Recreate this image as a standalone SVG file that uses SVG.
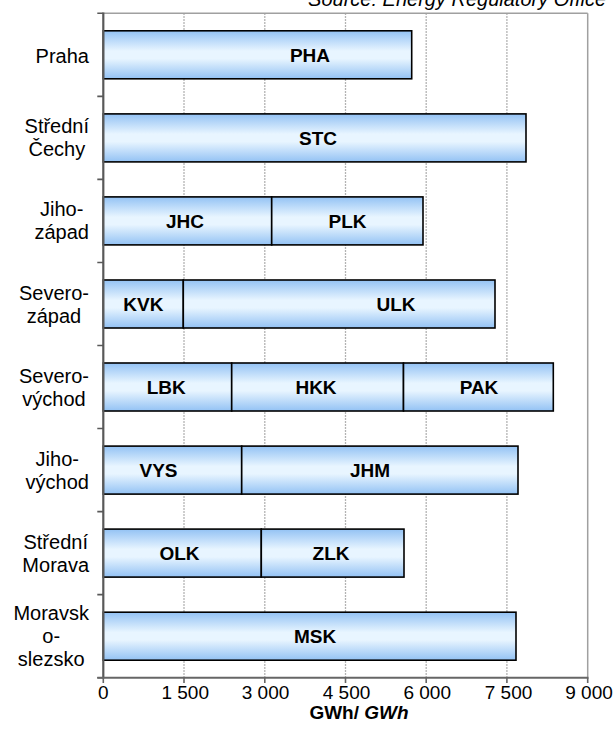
<svg xmlns="http://www.w3.org/2000/svg" width="616" height="747" viewBox="0 0 616 747">
<defs>
<linearGradient id="barfill" x1="0" y1="0" x2="0" y2="1">
<stop offset="0" stop-color="#93C2F4"/>
<stop offset="0.42" stop-color="#E8F5FF"/>
<stop offset="0.58" stop-color="#E8F5FF"/>
<stop offset="1" stop-color="#93C2F4"/>
</linearGradient>
<style>
.seg{fill:url(#barfill);stroke:#000;stroke-width:1.6}
.grid{stroke:#9a9a9a;stroke-width:1.3;stroke-dasharray:1.5 1.5;fill:none}
.cat{font-family:"Liberation Sans",Arial,sans-serif;font-size:20px;fill:#000;text-anchor:middle}
.lbl{font-family:"Liberation Sans",Arial,sans-serif;font-size:19px;font-weight:bold;fill:#000;text-anchor:middle}
.tick{font-family:"Liberation Sans",Arial,sans-serif;font-size:19px;fill:#000;text-anchor:middle}
</style>
</defs>
<rect width="616" height="747" fill="#fff"/>
<text x="606" y="6" font-family="Liberation Sans,Arial,sans-serif" font-size="20" font-style="italic" text-anchor="end">Source: Energy Regulatory Office</text>
<g id="gridlines">
<line class="grid" x1="184" y1="13.3" x2="184" y2="677.7"/>
<line class="grid" x1="264.8" y1="13.3" x2="264.8" y2="677.7"/>
<line class="grid" x1="345.5" y1="13.3" x2="345.5" y2="677.7"/>
<line class="grid" x1="426.2" y1="13.3" x2="426.2" y2="677.7"/>
<line class="grid" x1="506.9" y1="13.3" x2="506.9" y2="677.7"/>
<line x1="587.7" y1="13.3" x2="587.7" y2="677.7" stroke="#a0a0a0" stroke-width="1.5"/>
<line x1="103.3" y1="13.3" x2="587.7" y2="13.3" stroke="#a0a0a0" stroke-width="1.5"/>
</g>
<g id="praha">
<rect class="seg" x="103.3" y="30.8" width="308.4" height="48"/>
<text class="lbl" x="310" y="61.5">PHA</text>
<text class="cat" x="62.3" y="62.8">Praha</text>
</g>
<g id="stredni-cechy">
<rect class="seg" x="103.3" y="113.9" width="422.7" height="48"/>
<text class="lbl" x="318" y="144.6">STC</text>
<text class="cat" x="56.8" y="133.4">Střední</text>
<text class="cat" x="56.8" y="156.4">Čechy</text>
</g>
<g id="jihozapad">
<rect class="seg" x="103.3" y="196.9" width="168.4" height="48"/>
<rect class="seg" x="271.7" y="196.9" width="151.3" height="48"/>
<text class="lbl" x="185" y="227.6">JHC</text>
<text class="lbl" x="347.5" y="227.6">PLK</text>
<text class="cat" x="61.7" y="216.4">Jiho-</text>
<text class="cat" x="61.7" y="239.4">západ</text>
</g>
<g id="severozapad">
<rect class="seg" x="103.3" y="280" width="80" height="48"/>
<rect class="seg" x="183.3" y="280" width="311.7" height="48"/>
<text class="lbl" x="143.3" y="310.7">KVK</text>
<text class="lbl" x="396" y="310.7">ULK</text>
<text class="cat" x="54" y="299.5">Severo-</text>
<text class="cat" x="54" y="322.5">západ</text>
</g>
<g id="severovychod">
<rect class="seg" x="103.3" y="363" width="128.4" height="48"/>
<rect class="seg" x="231.7" y="363" width="171.8" height="48"/>
<rect class="seg" x="403.5" y="363" width="149.8" height="48"/>
<text class="lbl" x="166.3" y="393.7">LBK</text>
<text class="lbl" x="316" y="393.7">HKK</text>
<text class="lbl" x="479" y="393.7">PAK</text>
<text class="cat" x="54" y="382.5">Severo-</text>
<text class="cat" x="54" y="405.5">východ</text>
</g>
<g id="jihovychod">
<rect class="seg" x="103.3" y="446.1" width="138.4" height="48"/>
<rect class="seg" x="241.7" y="446.1" width="276.3" height="48"/>
<text class="lbl" x="158.5" y="476.8">VYS</text>
<text class="lbl" x="370" y="476.8">JHM</text>
<text class="cat" x="57.3" y="465.6">Jiho-</text>
<text class="cat" x="57.3" y="488.6">východ</text>
</g>
<g id="stredni-morava">
<rect class="seg" x="103.3" y="529.1" width="158" height="48"/>
<rect class="seg" x="261.3" y="529.1" width="142.7" height="48"/>
<text class="lbl" x="179.5" y="559.8">OLK</text>
<text class="lbl" x="331" y="559.8">ZLK</text>
<text class="cat" x="55.7" y="548.6">Střední</text>
<text class="cat" x="55.7" y="571.6">Morava</text>
</g>
<g id="moravskoslezsko">
<rect class="seg" x="103.3" y="612.2" width="412.7" height="48"/>
<text class="lbl" x="315" y="642.9">MSK</text>
<text class="cat" x="51.2" y="620.2">Moravsk</text>
<text class="cat" x="51.2" y="643.2">o-</text>
<text class="cat" x="51.2" y="666.2">slezsko</text>
</g>
<g id="axes" fill="none">
<line x1="103.3" y1="12.5" x2="103.3" y2="678.5" stroke="#595959" stroke-width="2.2"/>
<path d="M97.3 13.3H103.3M97.3 96.35H103.3M97.3 179.4H103.3M97.3 262.45H103.3M97.3 345.5H103.3M97.3 428.55H103.3M97.3 511.6H103.3M97.3 594.65H103.3M97.3 677.7H103.3" stroke="#595959" stroke-width="1.6"/>
<line x1="97.3" y1="677.7" x2="588.5" y2="677.7" stroke="#666" stroke-width="2"/>
<path d="M103.3 677.7V683M184 677.7V683M264.8 677.7V683M345.5 677.7V683M426.2 677.7V683M506.9 677.7V683M587.7 677.7V683" stroke="#666" stroke-width="1.6"/>
</g>
<g id="axis-labels">
<text class="tick" x="103.4" y="699">0</text>
<text class="tick" x="185.2" y="699">1 500</text>
<text class="tick" x="265.5" y="699">3 000</text>
<text class="tick" x="346.5" y="699">4 500</text>
<text class="tick" x="427.2" y="699">6 000</text>
<text class="tick" x="508.5" y="699">7 500</text>
<text class="tick" x="589" y="699">9 000</text>
<text x="359" y="718.5" font-family="Liberation Sans,Arial,sans-serif" font-size="19" font-weight="bold" text-anchor="middle">GWh/ <tspan font-style="italic">GWh</tspan></text>
</g>
</svg>
